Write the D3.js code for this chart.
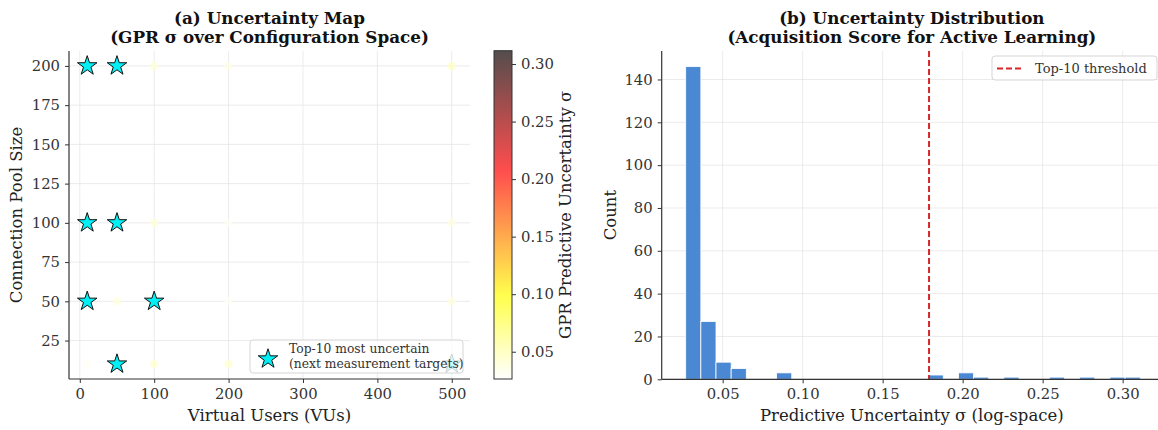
<!DOCTYPE html>
<html>
<head>
<meta charset="utf-8">
<script src="https://cdn.jsdelivr.net/npm/d3@7"></script>
<style>
  body { margin: 0; background: #fff; }
  svg { display: block; font-family: "DejaVu Serif", serif; }
  .tick text { fill: #333; font-size: 14.8px; font-family: "DejaVu Serif", serif; }
  .tick line { stroke: #333; }
</style>
</head>
<body>
<svg id="drawing_region" width="1158" height="430"></svg>
<script>
// ---- data (a) uncertainty map ----
const vuValues = [10, 50, 100, 200, 500];
const poolValues = [10, 50, 100, 200];
// sigma at each grid location: [vu, pool, sigma]
const mapPoints = [
    [10, 200, 0.30], [50, 200, 0.28], [100, 200, 0.042], [200, 200, 0.036], [500, 200, 0.050],
    [10, 100, 0.26], [50, 100, 0.25], [100, 100, 0.042], [200, 100, 0.030], [500, 100, 0.038],
    [10, 50, 0.22], [50, 50, 0.040], [100, 50, 0.21], [200, 50, 0.030], [500, 50, 0.038],
    [10, 10, 0.030], [50, 10, 0.20], [100, 10, 0.046], [200, 10, 0.046], [500, 10, 0.19]
];
// top-10 most uncertain locations
const topTargets = [
    [10, 200], [50, 200], [10, 100], [50, 100], [10, 50], [100, 50], [50, 10], [500, 10]
];
const colorbarTicks = [0.05, 0.10, 0.15, 0.20, 0.25, 0.30];

// ---- data (b) histogram ----
const binLo = 0.0269;
const binHi = 0.311;
const binCounts = [146, 27, 8, 5, 0, 0, 3, 0, 0, 0, 0, 0, 0, 0, 0, 0, 2, 0, 3, 1, 0, 1, 0, 0, 1, 0, 1, 0, 1, 1];
const threshold = 0.179;
const histXTicks = [0.05, 0.10, 0.15, 0.20, 0.25, 0.30];
const histYTicks = [0, 20, 40, 60, 80, 100, 120, 140];

// matplotlib "hot" colormap, reversed, drawn with alpha over white
function hot(t) {
    const r = Math.min(1, 0.0416 + t * (1 - 0.0416) / 0.365079);
    const g = Math.max(0, Math.min(1, (t - 0.365079) / (0.746032 - 0.365079)));
    const b = Math.max(0, Math.min(1, (t - 0.746032) / (1 - 0.746032)));
    return [r, g, b];
}
const sigmaMin = 0.0263, sigmaMax = 0.3116;
function sigmaColor(s, alpha) {
    const t = Math.max(0, Math.min(1, (s - sigmaMin) / (sigmaMax - sigmaMin)));
    const c = hot(1 - t);
    const mix = v => Math.round(255 * (v * alpha + (1 - alpha)));
    return d3.rgb(mix(c[0]), mix(c[1]), mix(c[2])).formatHex();
}

const svg = d3.select('#drawing_region');
const gridColor = '#e6e6e6';

function title(x, lines) {
    const t = svg.append('text')
        .attr('x', x).attr('y', 24)
        .attr('text-anchor', 'middle')
        .attr('font-size', '16.8px')
        .attr('font-weight', 'bold')
        .attr('fill', '#111');
    lines.forEach((l, i) => {
        t.append('tspan').attr('x', x).attr('dy', i === 0 ? 0 : 19).text(l);
    });
}

function spines(g, box) {
    g.selectAll('.domain').remove();
    g.append('line').attr('x1', box.left).attr('x2', box.right).attr('y1', box.bottom).attr('y2', box.bottom)
        .attr('stroke', '#333').attr('stroke-width', 1.2);
    g.append('line').attr('x1', box.left).attr('x2', box.left).attr('y1', box.top).attr('y2', box.bottom)
        .attr('stroke', '#333').attr('stroke-width', 1.2);
}

// ================= (a) =================
const ax = { left: 69, right: 470, top: 51, bottom: 379 };
const xA = d3.scaleLinear().domain([-14.5, 524.5]).range([ax.left, ax.right]);
const yA = d3.scaleLinear().domain([0.5, 209.5]).range([ax.bottom, ax.top]);

const gA = svg.append('g');
gA.selectAll('.gx').data([0, 100, 200, 300, 400, 500]).enter().append('line')
    .attr('x1', d => xA(d)).attr('x2', d => xA(d))
    .attr('y1', ax.top).attr('y2', ax.bottom)
    .attr('stroke', gridColor).attr('stroke-width', 0.8);
gA.selectAll('.gy').data([25, 50, 75, 100, 125, 150, 175, 200]).enter().append('line')
    .attr('x1', ax.left).attr('x2', ax.right)
    .attr('y1', d => yA(d)).attr('y2', d => yA(d))
    .attr('stroke', gridColor).attr('stroke-width', 0.8);

gA.selectAll('circle.pt').data(mapPoints).enter().append('circle')
    .attr('class', 'pt')
    .attr('cx', d => xA(d[0]))
    .attr('cy', d => yA(d[1]))
    .attr('r', 4)
    .attr('fill', d => sigmaColor(d[2], 0.7))
    .attr('opacity', 0.75);

const star = d3.symbol().type(d3.symbolStar).size(118);
gA.selectAll('path.star').data(topTargets).enter().append('path')
    .attr('class', 'star')
    .attr('d', star)
    .attr('transform', d => `translate(${xA(d[0])},${yA(d[1])})`)
    .attr('fill', '#00f0f5')
    .attr('stroke', '#111')
    .attr('stroke-width', 1);

gA.append('g').attr('transform', `translate(0,${ax.bottom})`)
    .call(d3.axisBottom(xA).tickValues([0, 100, 200, 300, 400, 500]).tickSize(4).tickPadding(5));
gA.append('g').attr('transform', `translate(${ax.left},0)`)
    .call(d3.axisLeft(yA).tickValues([25, 50, 75, 100, 125, 150, 175, 200]).tickSize(4).tickPadding(5));
spines(gA, ax);

const legA = gA.append('g').attr('transform', 'translate(250,340)');
legA.append('rect').attr('width', 213).attr('height', 33).attr('rx', 3)
    .attr('fill', '#fff').attr('fill-opacity', 0.8)
    .attr('stroke', '#d5d5d5');
legA.append('path').attr('d', star).attr('transform', 'translate(18,19)')
    .attr('fill', '#00f0f5').attr('stroke', '#111').attr('stroke-width', 1);
legA.append('text').attr('x', 39).attr('y', 13).attr('font-size', '12.3px').attr('fill', '#333')
    .text('Top-10 most uncertain');
legA.append('text').attr('x', 39).attr('y', 28).attr('font-size', '12.3px').attr('fill', '#333')
    .text('(next measurement targets)');

svg.append('text').attr('x', (ax.left + ax.right) / 2).attr('y', 421)
    .attr('text-anchor', 'middle').attr('font-size', '16.5px').attr('fill', '#222')
    .text('Virtual Users (VUs)');
svg.append('text').attr('transform', `translate(22,${(ax.top + ax.bottom) / 2}) rotate(-90)`)
    .attr('text-anchor', 'middle').attr('font-size', '16.5px').attr('fill', '#222')
    .text('Connection Pool Size');
title((ax.left + ax.right) / 2, ['(a) Uncertainty Map', '(GPR σ over Configuration Space)']);

// colorbar
const cb = { left: 494, right: 512, top: 50.7, bottom: 379 };
const yC = d3.scaleLinear().domain([sigmaMin, sigmaMax]).range([cb.bottom, cb.top]);
const grad = svg.append('defs').append('linearGradient')
    .attr('id', 'cbgrad').attr('x1', 0).attr('y1', 1).attr('x2', 0).attr('y2', 0);
d3.range(0, 1.0001, 0.02).forEach(t => {
    grad.append('stop').attr('offset', t)
        .attr('stop-color', sigmaColor(sigmaMin + t * (sigmaMax - sigmaMin), 0.7));
});
svg.append('rect').attr('x', cb.left).attr('y', cb.top)
    .attr('width', cb.right - cb.left).attr('height', cb.bottom - cb.top)
    .attr('fill', 'url(#cbgrad)').attr('stroke', '#333').attr('stroke-width', 1);
const cbAxis = svg.append('g').attr('transform', `translate(${cb.right},0)`)
    .call(d3.axisRight(yC).tickValues(colorbarTicks).tickFormat(d3.format('.2f')).tickSize(4).tickPadding(5));
cbAxis.select('.domain').remove();
svg.append('text').attr('transform', `translate(571,${(cb.top + cb.bottom) / 2}) rotate(-90)`)
    .attr('text-anchor', 'middle').attr('font-size', '16.5px').attr('fill', '#222')
    .text('GPR Predictive Uncertainty σ');

// ================= (b) =================
const bx = { left: 661.7, right: 1162, top: 51, bottom: 379.3 };
const xB = d3.scaleLinear().domain([0.0119, 0.3246]).range([bx.left, bx.right]);
const yB = d3.scaleLinear().domain([0, 153.3]).range([bx.bottom, bx.top]);
const gB = svg.append('g');

gB.selectAll('.gx').data(histXTicks).enter().append('line')
    .attr('x1', d => xB(d)).attr('x2', d => xB(d))
    .attr('y1', bx.top).attr('y2', bx.bottom)
    .attr('stroke', gridColor).attr('stroke-width', 0.8);
gB.selectAll('.gy').data(histYTicks).enter().append('line')
    .attr('x1', bx.left).attr('x2', bx.right)
    .attr('y1', d => yB(d)).attr('y2', d => yB(d))
    .attr('stroke', gridColor).attr('stroke-width', 0.8);

const binW = (binHi - binLo) / binCounts.length;
const bins = binCounts.map((c, i) => ({ x0: binLo + i * binW, x1: binLo + (i + 1) * binW, count: c }))
    .filter(d => d.count > 0);
gB.selectAll('rect.bar').data(bins).enter().append('rect')
    .attr('class', 'bar')
    .attr('x', d => xB(d.x0))
    .attr('width', d => xB(d.x1) - xB(d.x0))
    .attr('y', d => yB(d.count))
    .attr('height', d => yB(0) - yB(d.count))
    .attr('fill', '#4a88d4')
    .attr('stroke', '#fff').attr('stroke-width', 0.8);

gB.append('line')
    .attr('x1', xB(threshold)).attr('x2', xB(threshold))
    .attr('y1', bx.top).attr('y2', bx.bottom)
    .attr('stroke', '#d62728').attr('stroke-width', 2)
    .attr('stroke-dasharray', '6,3');

gB.append('g').attr('transform', `translate(0,${bx.bottom})`)
    .call(d3.axisBottom(xB).tickValues(histXTicks).tickFormat(d3.format('.2f')).tickSize(4).tickPadding(5));
gB.append('g').attr('transform', `translate(${bx.left},0)`)
    .call(d3.axisLeft(yB).tickValues(histYTicks).tickSize(4).tickPadding(5));
spines(gB, bx);

const legB = gB.append('g').attr('transform', 'translate(992,56)');
legB.append('rect').attr('width', 165).attr('height', 24).attr('rx', 3)
    .attr('fill', '#fff').attr('fill-opacity', 0.8).attr('stroke', '#d5d5d5');
legB.append('line').attr('x1', 5).attr('x2', 32).attr('y1', 12.5).attr('y2', 12.5)
    .attr('stroke', '#d62728').attr('stroke-width', 2).attr('stroke-dasharray', '6,3');
legB.append('text').attr('x', 43).attr('y', 17).attr('font-size', '13px').attr('fill', '#333')
    .text('Top-10 threshold');

svg.append('text').attr('x', (bx.left + bx.right) / 2).attr('y', 421)
    .attr('text-anchor', 'middle').attr('font-size', '16.5px').attr('fill', '#222')
    .text('Predictive Uncertainty σ (log-space)');
svg.append('text').attr('transform', `translate(616,${(bx.top + bx.bottom) / 2}) rotate(-90)`)
    .attr('text-anchor', 'middle').attr('font-size', '16.5px').attr('fill', '#222')
    .text('Count');
title((bx.left + bx.right) / 2, ['(b) Uncertainty Distribution', '(Acquisition Score for Active Learning)']);
</script>
</body>
</html>
